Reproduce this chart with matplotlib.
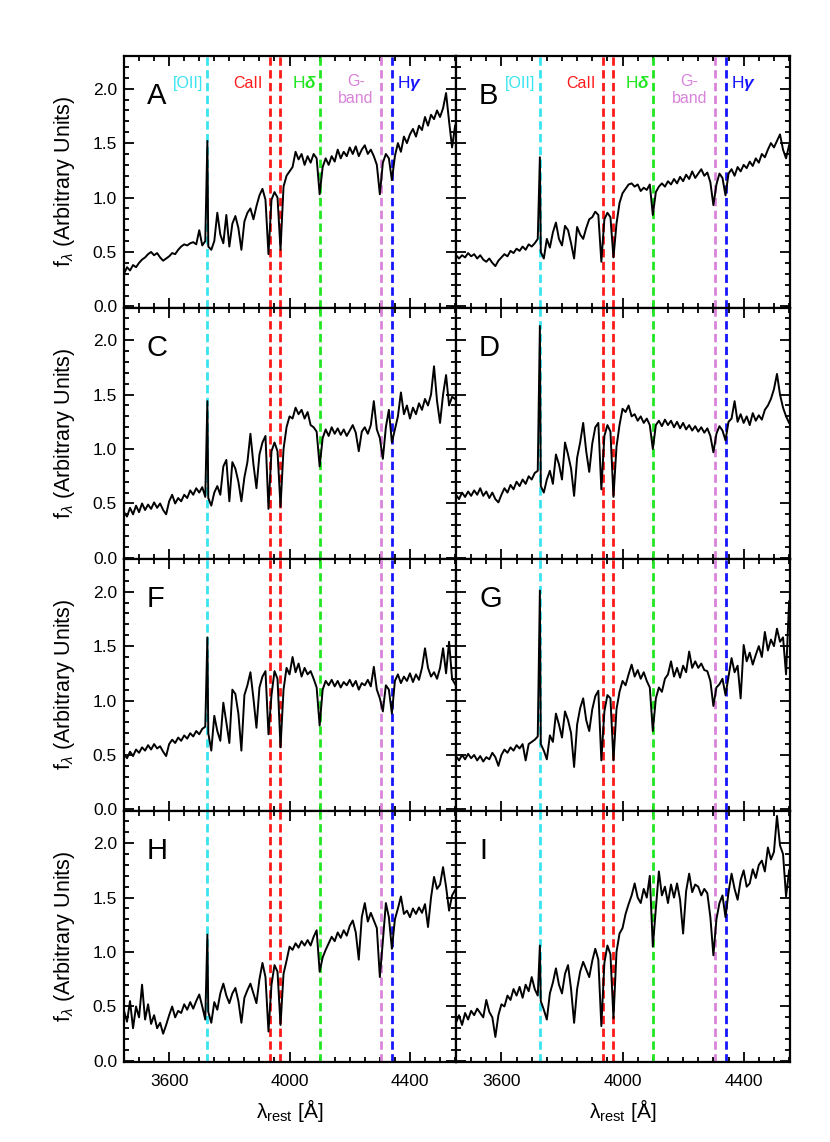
import numpy as np
import matplotlib.pyplot as plt
from matplotlib.ticker import MultipleLocator

plt.rcParams['font.family'] = ['Liberation Sans', 'DejaVu Sans']
plt.rcParams['mathtext.fontset'] = 'custom'
plt.rcParams['mathtext.rm'] = 'Liberation Sans'
plt.rcParams['mathtext.it'] = 'Liberation Sans:italic'
plt.rcParams['mathtext.bf'] = 'Liberation Sans:bold:italic'

wave = np.arange(3450, 4551, 10)

flux_a = [0.30, 0.36, 0.33, 0.38, 0.36, 0.40, 0.43, 0.45, 0.48, 0.50,
          0.47, 0.49, 0.45, 0.42, 0.44, 0.46, 0.49, 0.48, 0.52, 0.55,
          0.57, 0.56, 0.58, 0.59, 0.57, 0.70, 0.56, 0.60, 0.55, 0.52,
          0.60, 0.86, 0.66, 0.58, 0.84, 0.55, 0.76, 0.83, 0.72, 0.52,
          0.78, 0.86, 0.90, 0.80, 0.92, 1.02, 1.08, 0.98, 0.48, 0.98,
          1.05, 1.00, 0.52, 1.10, 1.20, 1.24, 1.28, 1.42, 1.35, 1.40,
          1.30, 1.38, 1.32, 1.40, 1.36, 1.03, 1.28, 1.36, 1.30, 1.38,
          1.33, 1.44, 1.36, 1.42, 1.38, 1.46, 1.40, 1.47, 1.38, 1.44,
          1.48, 1.40, 1.44, 1.38, 1.30, 1.03, 1.32, 1.40, 1.36, 1.16,
          1.38, 1.50, 1.42, 1.56, 1.50, 1.58, 1.63, 1.56, 1.66, 1.62,
          1.74, 1.66, 1.76, 1.72, 1.80, 1.74, 1.82, 1.96, 1.70, 1.46,
          1.66]

flux_b = [0.47, 0.44, 0.47, 0.45, 0.49, 0.46, 0.48, 0.44, 0.47, 0.43,
          0.41, 0.44, 0.40, 0.37, 0.42, 0.45, 0.48, 0.46, 0.51, 0.49,
          0.53, 0.51, 0.55, 0.52, 0.57, 0.55, 0.58, 0.62, 0.50, 0.44,
          0.62, 0.54, 0.68, 0.77, 0.62, 0.56, 0.74, 0.70, 0.58, 0.44,
          0.73, 0.66, 0.62, 0.72, 0.80, 0.82, 0.87, 0.84, 0.41, 0.80,
          0.86, 0.82, 0.45, 0.76, 0.95, 1.04, 1.08, 1.12, 1.13, 1.10,
          1.12, 1.06, 1.09, 1.07, 1.12, 0.84, 1.05, 1.10, 1.13, 1.10,
          1.15, 1.12, 1.17, 1.13, 1.19, 1.15, 1.21, 1.17, 1.24, 1.18,
          1.22, 1.26, 1.20, 1.23, 1.14, 0.93, 1.12, 1.22, 1.18, 1.02,
          1.22, 1.26, 1.20, 1.28, 1.24, 1.30, 1.27, 1.33, 1.29, 1.36,
          1.32, 1.40, 1.37, 1.44, 1.50, 1.46, 1.52, 1.58, 1.44, 1.36,
          1.48]

flux_c = [0.42, 0.38, 0.46, 0.40, 0.48, 0.42, 0.50, 0.44, 0.49, 0.45,
          0.51, 0.46, 0.50, 0.44, 0.40, 0.52, 0.58, 0.50, 0.55, 0.52,
          0.58, 0.55, 0.62, 0.58, 0.64, 0.60, 0.65, 0.56, 0.55, 0.48,
          0.60, 0.66, 0.58, 0.84, 0.90, 0.52, 0.88, 0.82, 0.70, 0.52,
          0.74, 0.88, 1.14, 0.86, 0.64, 0.95, 1.06, 1.12, 0.45, 0.98,
          1.06, 0.98, 0.47, 1.00, 1.20, 1.30, 1.28, 1.38, 1.32, 1.36,
          1.28, 1.34, 1.22, 1.20, 1.16, 0.84, 1.10, 1.18, 1.12, 1.20,
          1.14, 1.19, 1.13, 1.18, 1.12, 1.17, 1.22, 1.15, 0.98, 1.16,
          1.20, 1.14, 1.22, 1.44, 1.18, 1.10, 0.91, 1.20, 1.36, 1.06,
          1.18, 1.30, 1.52, 1.32, 1.40, 1.28, 1.38, 1.32, 1.42, 1.36,
          1.46, 1.40, 1.50, 1.76, 1.44, 1.24, 1.50, 1.68, 1.40, 1.48,
          1.46]

flux_d = [0.58, 0.54, 0.60, 0.56, 0.61, 0.57, 0.62, 0.58, 0.64, 0.57,
          0.61, 0.55, 0.60, 0.54, 0.51, 0.58, 0.64, 0.60, 0.67, 0.63,
          0.70, 0.66, 0.72, 0.68, 0.75, 0.72, 0.78, 0.80, 0.66, 0.60,
          0.72, 0.80, 0.68, 0.95, 0.86, 0.72, 1.06, 0.95, 0.82, 0.57,
          0.92, 1.06, 1.24, 0.98, 0.79, 1.05, 1.20, 1.24, 0.63, 1.12,
          1.22, 1.16, 0.56, 1.02, 1.22, 1.37, 1.34, 1.40, 1.30, 1.32,
          1.26, 1.30, 1.24, 1.28, 1.22, 1.00, 1.22, 1.26, 1.21, 1.27,
          1.22, 1.26, 1.20, 1.25, 1.19, 1.24, 1.18, 1.22, 1.17, 1.21,
          1.16, 1.20, 1.15, 1.19, 1.12, 0.97, 1.14, 1.21, 1.17, 1.08,
          1.25, 1.28, 1.44, 1.25, 1.32, 1.24, 1.30, 1.22, 1.33, 1.26,
          1.31, 1.27, 1.36, 1.40, 1.46, 1.55, 1.69, 1.50, 1.38, 1.30,
          1.24]

flux_f = [0.51, 0.47, 0.53, 0.49, 0.55, 0.52, 0.57, 0.54, 0.59, 0.55,
          0.60, 0.56, 0.58, 0.53, 0.49, 0.60, 0.64, 0.61, 0.66, 0.63,
          0.68, 0.65, 0.70, 0.67, 0.72, 0.69, 0.74, 0.76, 0.70, 0.54,
          0.86, 0.72, 0.63, 0.98, 0.80, 0.61, 1.10, 1.06, 0.88, 0.54,
          1.05, 1.14, 1.26, 1.02, 0.75, 1.12, 1.22, 1.27, 0.69, 1.05,
          1.27, 1.20, 0.57, 1.10, 1.30, 1.24, 1.40, 1.26, 1.34, 1.22,
          1.30, 1.24, 1.27, 1.20, 1.12, 0.77, 1.10, 1.18, 1.14, 1.19,
          1.13, 1.18, 1.12, 1.17, 1.14, 1.19, 1.13, 1.18, 1.10, 1.16,
          1.14, 1.19, 1.13, 1.31, 1.10, 1.02, 0.90, 1.14, 1.10, 0.88,
          1.18, 1.24, 1.16, 1.22, 1.18, 1.25, 1.17, 1.24, 1.19, 1.30,
          1.48, 1.30, 1.22, 1.26, 1.20, 1.30, 1.48, 1.25, 1.54, 1.20,
          1.15]

flux_g = [0.49, 0.45, 0.50, 0.46, 0.51, 0.47, 0.50, 0.45, 0.49, 0.44,
          0.48, 0.46, 0.52, 0.48, 0.40, 0.50, 0.55, 0.52, 0.57, 0.54,
          0.59, 0.56, 0.60, 0.45, 0.60, 0.62, 0.64, 0.67, 0.60, 0.54,
          0.46, 0.68, 0.62, 0.88, 0.78, 0.66, 0.90, 0.82, 0.70, 0.39,
          0.78, 0.93, 1.02, 0.82, 0.72, 0.92, 1.04, 1.09, 0.45, 0.90,
          1.05, 1.02, 0.45, 0.92, 1.08, 1.18, 1.14, 1.24, 1.33, 1.22,
          1.28, 1.20, 1.26, 1.18, 1.12, 0.72, 1.02, 1.12, 1.08, 1.20,
          1.24, 1.36, 1.22, 1.30, 1.21, 1.32, 1.26, 1.45, 1.30, 1.36,
          1.30, 1.34, 1.28, 1.27, 1.18, 0.95, 1.12, 1.15, 1.20, 1.05,
          1.22, 1.39, 1.26, 1.32, 1.02, 1.51, 1.36, 1.44, 1.33, 1.42,
          1.50, 1.40, 1.63, 1.46, 1.56, 1.50, 1.66, 1.54, 1.58, 1.24,
          1.91]

flux_h = [0.46, 0.36, 0.55, 0.30, 0.50, 0.40, 0.70, 0.38, 0.52, 0.34,
          0.42, 0.30, 0.35, 0.25, 0.33, 0.42, 0.50, 0.40, 0.46, 0.44,
          0.52, 0.47, 0.54, 0.48, 0.55, 0.61, 0.50, 0.38, 0.45, 0.35,
          0.54, 0.47, 0.62, 0.71, 0.60, 0.53, 0.62, 0.67, 0.55, 0.35,
          0.58, 0.65, 0.71, 0.62, 0.53, 0.75, 0.90, 0.77, 0.27, 0.70,
          0.88, 0.82, 0.33, 0.80, 0.92, 1.05, 1.02, 1.08, 1.04, 1.10,
          1.06, 1.11, 1.06, 1.14, 1.20, 0.82, 0.95, 1.02, 1.08, 1.14,
          1.10, 1.18, 1.13, 1.20, 1.15, 1.24, 1.29, 1.18, 0.93, 1.32,
          1.45, 1.28, 1.36, 1.29, 1.22, 0.77, 1.10, 1.45, 1.32, 1.03,
          1.30, 1.40, 1.51, 1.35, 1.38, 1.32, 1.40, 1.35, 1.41, 1.36,
          1.44, 1.23, 1.50, 1.69, 1.58, 1.62, 1.78, 1.60, 1.38, 1.52,
          1.57]

flux_i = [0.35, 0.42, 0.33, 0.44, 0.38, 0.46, 0.42, 0.48, 0.44, 0.40,
          0.56, 0.45, 0.40, 0.22, 0.42, 0.52, 0.50, 0.60, 0.56, 0.66,
          0.60, 0.68, 0.58, 0.70, 0.64, 0.77, 0.66, 0.60, 0.55, 0.47,
          0.38, 0.62, 0.72, 0.85, 0.70, 0.62, 0.80, 0.88, 0.66, 0.35,
          0.66, 0.82, 0.91, 0.84, 0.77, 0.92, 1.03, 0.93, 0.32, 0.90,
          1.06, 0.98, 0.39, 1.00, 1.17, 1.22, 1.35, 1.44, 1.52, 1.63,
          1.50, 1.45, 1.58, 1.50, 1.70, 1.05, 1.40, 1.74, 1.52, 1.60,
          1.45, 1.62, 1.50, 1.63, 1.48, 1.17, 1.56, 1.72, 1.55, 1.62,
          1.60, 1.52, 1.58, 1.54, 1.32, 0.97, 1.30, 1.45, 1.52, 1.32,
          1.55, 1.72, 1.58, 1.48, 1.66, 1.75, 1.60, 1.63, 1.76, 1.68,
          1.80, 1.84, 1.74, 1.96, 1.85, 1.92, 2.25, 1.98, 1.90, 1.51,
          1.75]

# peak of the [OII] 3727 emission line in each panel
oii_peak = [1.52, 1.37, 1.44, 2.13, 1.58, 2.01, 1.16, 1.06]

panel_names = ['A', 'B', 'C', 'D', 'F', 'G', 'H', 'I']
spectra = [flux_a, flux_b, flux_c, flux_d, flux_f, flux_g, flux_h, flux_i]

# spectral features marked in every panel
line_waves = [3727, 3934, 3969, 4102, 4304, 4341]
line_colors = ['#38e4f0', '#ff1a1a', '#ff1a1a', '#22e622', '#d983d9', '#1515ff']

feat_text = ['[OII]', 'CaII', 'H$\\mathbf{δ}$', 'G-\nband', 'H$\\mathbf{γ}$']
feat_colors = ['#38e4f0', '#ff1a1a', '#22e622', '#d983d9', '#1515ff']

fig = plt.figure(figsize=(8.3, 11.42), dpi=100)
W, H = 830.0, 1142.0
row_h = 251.5

for i, (name, flux) in enumerate(zip(panel_names, spectra)):
    row, col = divmod(i, 2)
    top = 56 + row * row_h
    x0 = 124 if col == 0 else 456
    w = 332 if col == 0 else 334
    ax = fig.add_axes([x0 / W, 1 - (top + row_h) / H, w / W, row_h / H])

    for lam, c in zip(line_waves, line_colors):
        ax.axvline(lam, color=c, lw=2.0, ls=(0, (3, 1.6)), zorder=2)
    # put the emission line peak in between 3720 and 3730
    k = np.searchsorted(wave, line_waves[0])
    x = np.insert(wave, k, line_waves[0])
    y = np.insert(np.array(flux), k, oii_peak[i])
    ax.plot(x, y, color='black', lw=1.4, zorder=3)

    ax.set_xlim(3450, 4553)
    ax.set_ylim(-0.01, 2.30)
    ax.set_xticks([3600, 4000, 4400])
    ax.xaxis.set_minor_locator(MultipleLocator(50))
    ax.yaxis.set_major_locator(MultipleLocator(0.5))
    ax.yaxis.set_minor_locator(MultipleLocator(0.1))
    ax.tick_params(which='both', direction='in', top=True, right=True,
                   width=1.3, labelsize=12.5)
    ax.tick_params(which='major', length=7)
    ax.tick_params(which='minor', length=3.5)
    ax.tick_params(axis='x', pad=9)
    ax.tick_params(axis='y', pad=5)
    for s in ax.spines.values():
        s.set_linewidth(1.6)
    if col == 1:
        ax.set_yticklabels([])
    if row < 3:
        ax.set_xticklabels([])

    ax.text(0.069, 0.84, name, transform=ax.transAxes, fontsize=21,
            ha='left', va='center')

    if row == 0:
        ax.text(3713, 2.05, feat_text[0], color=feat_colors[0], fontsize=11.5,
                ha='right', va='center')
        ax.text(3912, 2.05, feat_text[1], color=feat_colors[1], fontsize=11.5,
                ha='right', va='center')
        ax.text(4091, 2.05, feat_text[2], color=feat_colors[2], fontsize=12.5,
                ha='right', va='center')
        ax.text(4221, 1.99, feat_text[3], color=feat_colors[3], fontsize=11.5,
                ha='center', va='center', multialignment='center')
        ax.text(4357, 2.05, feat_text[4], color=feat_colors[4], fontsize=12.5,
                ha='left', va='center')

    if col == 0:
        fig.text(64 / W, 1 - (top + row_h / 2) / H, 'f$_{λ}$ (Arbitrary Units)',
                 rotation=90, ha='center', va='center', fontsize=15.5)
    if row == 3:
        fig.text((x0 + w / 2) / W, 1 - 1110 / H, 'λ$_{\\rm rest}$ [Å]',
                 ha='center', va='center', fontsize=15)

fig.savefig('out.png', dpi=100)
